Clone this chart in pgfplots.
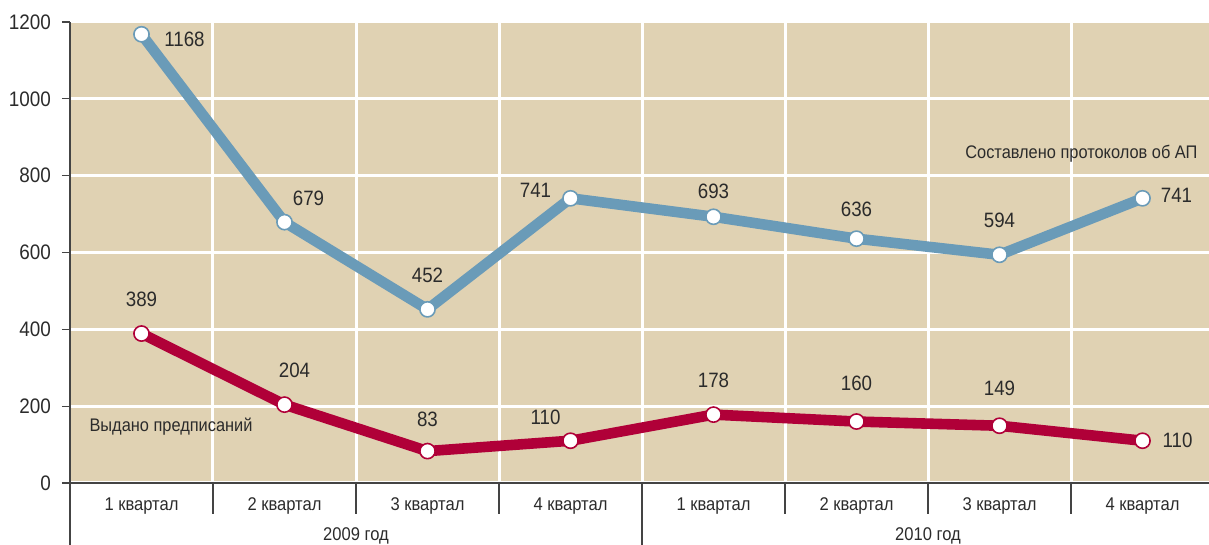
\documentclass[border=0pt]{standalone}
\usepackage{fontspec}
\setmainfont{Liberation Sans}[FakeStretch=0.9]
\usepackage{pgfplots}
\usepackage{pgfplotstable}
\pgfplotsset{compat=1.18}
\definecolor{bg}{HTML}{E0D2B3}
\definecolor{blu}{HTML}{6A9BB8}
\definecolor{rd}{HTML}{B00038}
\definecolor{txt}{HTML}{2B2B2B}
\definecolor{axl}{HTML}{444444}

\pgfplotstableread{
x y dx dy
0 1168 21.5 -2.5
1 679 12 11.7
2 452 0 17.2
3 741 -17.5 3.75
4 693 0 12.5
5 636 0 14.9
6 594 0 17
7 741 17 1.25
}\protocols

\pgfplotstableread{
x y dx dy
0 389 0 17.3
1 204 5 16.9
2 83 0 16
3 110 -12.5 11.9
4 178 0 17.3
5 160 0 19.3
6 149 0 18.9
7 110 17.5 0.4
}\orders

\begin{document}
\begin{tikzpicture}
\begin{axis}[
  name=ax,
  scale only axis, width=572pt, height=230.5pt,
  xmin=-0.5, xmax=7.5, ymin=0, ymax=1200,
  clip=false,
  axis lines=left,
  axis line style={-, draw=axl, line width=0.6pt},
  axis background/.style={fill=bg},
  ytick={0,200,...,1200},
  ymajorgrids,
  major grid style={white, line width=1.5pt},
  xtick={0,...,7},
  xticklabels={1 квартал,2 квартал,3 квартал,4 квартал,1 квартал,2 квартал,3 квартал,4 квартал},
  minor xtick={0.5,1.5,...,6.5},
  xminorgrids,
  minor grid style={white, line width=1.5pt},
  x tick style={draw=none},
  minor x tick style={draw=none},
  y tick style={draw=axl, line width=0.6pt},
  tick align=outside,
  major tick length=4pt,
  /pgf/number format/.cd, 1000 sep={}, assume math mode=true,
  /pgfplots/.cd,
  yticklabel style={font=\fontsize{10.5}{12}\selectfont, text=txt, xshift=-2pt},
  xticklabel style={font=\fontsize{9.2}{11}\selectfont, text=txt},
  every node near coord/.append style={font=\fontsize{10.4}{12}\selectfont, text=txt, anchor=center},
]
\addplot[blu, line width=5.3pt, line join=round, mark=*,
  mark options={fill=white, draw=blu, line width=0.8pt, solid},
  mark size=3.8pt,
  nodes near coords,
  visualization depends on={\thisrow{dx} \as \dx},
  visualization depends on={\thisrow{dy} \as \dy},
  nodes near coords style={xshift=\dx pt, yshift=\dy pt}]
  table[x=x, y=y] {\protocols};
\addplot[rd, line width=5.3pt, line join=round, mark=*,
  mark options={fill=white, draw=rd, line width=0.8pt, solid},
  mark size=3.8pt,
  nodes near coords,
  visualization depends on={\thisrow{dx} \as \dx},
  visualization depends on={\thisrow{dy} \as \dy},
  nodes near coords style={xshift=\dx pt, yshift=\dy pt}]
  table[x=x, y=y] {\orders};

\pgfplotsinvokeforeach{0.5,1.5,2.5,4.5,5.5,6.5}{
  \draw[axl, line width=0.6pt] (axis cs:#1,0) -- ([yshift=-15.5pt]axis cs:#1,0);
}
\draw[axl, line width=0.6pt] (axis cs:3.5,0) -- ([yshift=-32pt]axis cs:3.5,0);
\draw[axl, line width=0.6pt] (axis cs:-0.5,0) -- ([yshift=-32pt]axis cs:-0.5,0);

\node[font=\fontsize{9.2}{11}\selectfont, text=txt] at ([yshift=-26.5pt]axis cs:1.5,0) {2009 год};
\node[font=\fontsize{9.2}{11}\selectfont, text=txt] at ([yshift=-26.5pt]axis cs:5.5,0) {2010 год};
\node[font=\fontsize{9.1}{11}\selectfont, text=txt, anchor=east] at (axis cs:7.434,857) {Составлено протоколов об АП};
\node[font=\fontsize{9.1}{11}\selectfont, text=txt, anchor=west] at (axis cs:-0.413,146) {Выдано предписаний};
\end{axis}
\pgfresetboundingbox
\path ([xshift=-35pt, yshift=-31pt]ax.south west) rectangle ([xshift=569.5pt, yshift=11pt]ax.north west);
\end{tikzpicture}
\end{document}
